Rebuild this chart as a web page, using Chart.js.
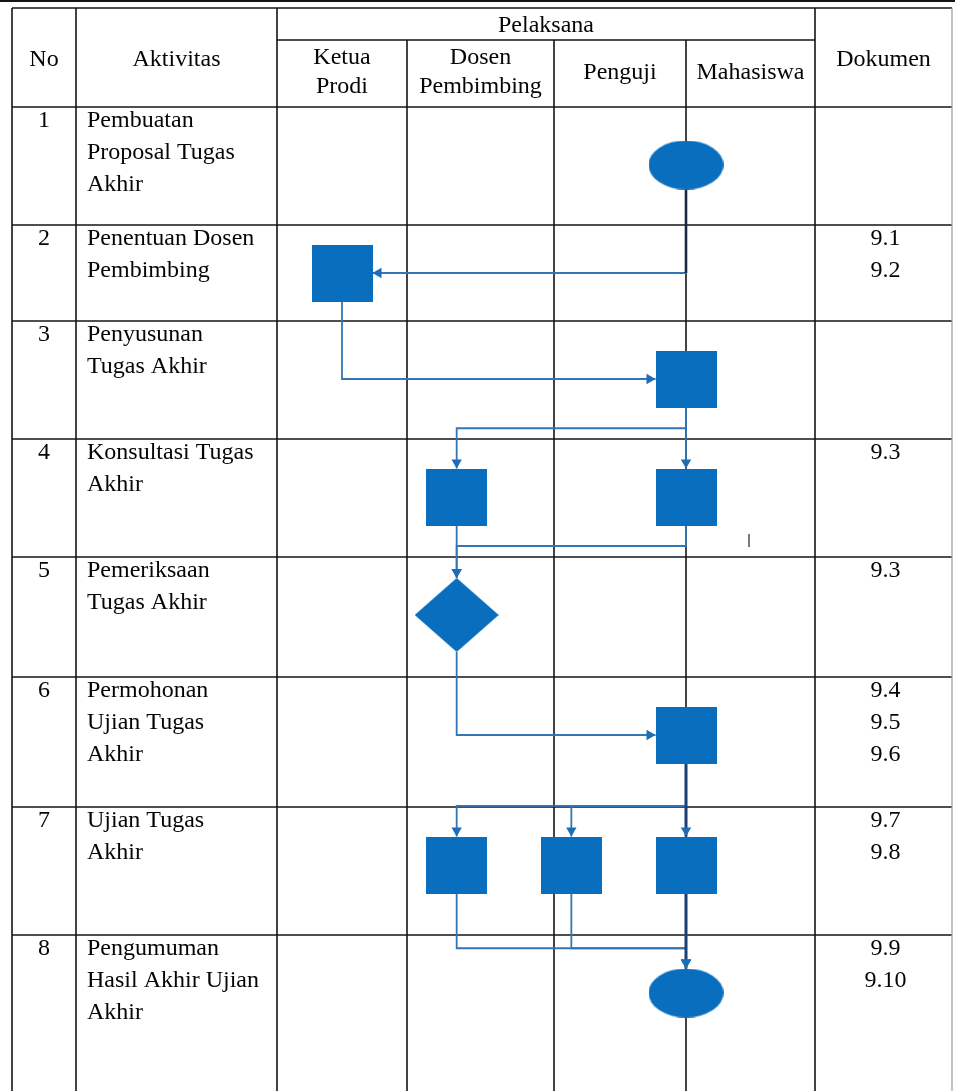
<!DOCTYPE html>
<html>
<head>
<meta charset="utf-8">
<script src="https://cdn.jsdelivr.net/npm/chart.js@4"></script>
<style>
html,body{margin:0;padding:0;background:#fff;}
canvas{display:block;}
</style>
</head>
<body>
<canvas id="c" width="955" height="1091"></canvas>
<script>
// ---------------- data ----------------
const stepNumbers = ['1', '2', '3', '4', '5', '6', '7', '8'];
const activities = [
  ['Pembuatan', 'Proposal Tugas', 'Akhir'],
  ['Penentuan Dosen', 'Pembimbing'],
  ['Penyusunan', 'Tugas Akhir'],
  ['Konsultasi Tugas', 'Akhir'],
  ['Pemeriksaan', 'Tugas Akhir'],
  ['Permohonan', 'Ujian Tugas', 'Akhir'],
  ['Ujian Tugas', 'Akhir'],
  ['Pengumuman', 'Hasil Akhir Ujian', 'Akhir']
];
const headerNo = 'No';
const headerActivity = 'Aktivitas';
const headerPerformers = 'Pelaksana';
const headerDocument = 'Dokumen';
const performers = [['Ketua', 'Prodi'], ['Dosen', 'Pembimbing'], ['Penguji'], ['Mahasiswa']];
const documents = [[], ['9.1', '9.2'], [], ['9.3'], ['9.3'], ['9.4', '9.5', '9.6'], ['9.7', '9.8'], ['9.9', '9.10']];
// lanes: 0 Ketua Prodi, 1 Dosen Pembimbing, 2 Penguji, 3 Mahasiswa
const stepLanes = [[3], [0], [3], [1, 3], [1], [3], [1, 2, 3], [3]];
const stepShapes = ['terminator', 'process', 'process', 'process', 'decision', 'process', 'process', 'terminator'];
// flows: [fromStep, fromLane, toStep, toLane]
const flows = [
  [0, 3, 1, 0], [1, 0, 2, 3],
  [2, 3, 3, 1], [2, 3, 3, 3],
  [3, 1, 4, 1], [3, 3, 4, 1],
  [4, 1, 5, 3],
  [5, 3, 6, 1], [5, 3, 6, 2], [5, 3, 6, 3],
  [6, 1, 7, 3], [6, 2, 7, 3], [6, 3, 7, 3]
];

// ---------------- layout / style ----------------
const W = 955, H = 1091;
const colEdges = [12, 76, 277, 407, 554, 686, 815, 952];
const rowEdges = [8, 107, 225, 321, 439, 557, 677, 807, 935, 1100];
const subHeaderY = 40;
const shapeSize = {
  process: {w: 61, h: 57},
  decision: {w: 84, h: 74},
  terminator: {w: 75, h: 49}
};
const busFrac = {3: 0.34, 4: 0.39, 6: 0.58, 7: 0.73};
const nodeOffset = 58;
const FILL = '#0a6ebf';
const LINE = '#3276b6';
const HEAVY = '#1d3f78';
const GRID = '#141414';
const FONT = '24px "Liberation Serif", "Times New Roman", serif';
const lineGap = 32;
const ARROW_R = 6;
const strayMark = {x: 749, y1: 534, y2: 547};

const laneFirst = (colEdges[2] + colEdges[3]) / 2;
const laneLast = colEdges[5];
const laneX = l => laneFirst + l * (laneLast - laneFirst) / 3;
const nodeY = s => rowEdges[s + 1] + Math.min(nodeOffset, (rowEdges[s + 2] - rowEdges[s + 1]) / 2);

function shapeCanvas(type) {
  const s = shapeSize[type];
  const c = document.createElement('canvas');
  c.width = s.w; c.height = s.h;
  const g = c.getContext('2d');
  g.fillStyle = FILL;
  g.beginPath();
  if (type === 'process') {
    g.rect(0, 0, s.w, s.h);
  } else if (type === 'decision') {
    g.moveTo(s.w / 2, 0); g.lineTo(s.w, s.h / 2); g.lineTo(s.w / 2, s.h); g.lineTo(0, s.h / 2); g.closePath();
  } else {
    g.ellipse(s.w / 2, s.h / 2, s.w / 2, s.h / 2, 0, 0, Math.PI * 2);
  }
  g.fill();
  return c;
}

function route(f) {
  const [s1, l1, s2, l2] = f;
  const x1 = laneX(l1), x2 = laneX(l2);
  const y1 = nodeY(s1) + shapeSize[stepShapes[s1]].h / 2;
  const t = shapeSize[stepShapes[s2]];
  const yc2 = nodeY(s2);
  const multi = flows.filter(g => g[0] === s1 && g[2] === s2).length > 1;
  if (multi) {
    const top = yc2 - t.h / 2;
    const by = y1 + busFrac[s2] * (top - y1);
    return [[x1, y1], [x1, by], [x2, by], [x2, top]];
  }
  if (l1 === l2) return [[x1, y1], [x2, yc2 - t.h / 2]];
  const side = x2 < x1 ? x2 + t.w / 2 : x2 - t.w / 2;
  return [[x1, y1], [x1, yc2], [side, yc2]];
}

const datasets = [];
// nodes
['process', 'decision', 'terminator'].forEach(type => {
  const pts = [];
  stepLanes.forEach((lanes, s) => {
    if (stepShapes[s] !== type) return;
    lanes.forEach(l => pts.push({x: laneX(l), y: nodeY(s)}));
  });
  datasets.push({
    label: type, data: pts, order: 0,
    pointStyle: shapeCanvas(type), pointRadius: 10, clip: false
  });
});
// arrows + connectors
const arrowPts = [], arrowRot = [];
flows.forEach(f => {
  const r = route(f);
  const a = r[r.length - 2], b = r[r.length - 1];
  const dx = Math.sign(b[0] - a[0]), dy = Math.sign(b[1] - a[1]);
  arrowPts.push({x: b[0] - dx * ARROW_R, y: b[1] - dy * ARROW_R});
  arrowRot.push(dy > 0 ? 180 : dy < 0 ? 0 : dx > 0 ? 90 : 270);
  const heavy = f[1] === 3 && f[3] === 3 && f[0] >= 5;
  datasets.push({
    label: 'flow', data: r.map(p => ({x: p[0], y: p[1]})), order: heavy ? 1.5 : 2,
    showLine: true, borderColor: heavy ? HEAVY : LINE, borderWidth: heavy ? 3 : 1.8,
    pointRadius: 0, tension: 0, clip: false
  });
  // the first drop from the start terminator runs on the lane border and reads dark
  if (f[0] === 0 && f[1] === 3) {
    datasets.push({
      label: 'flow-stem', data: r.slice(0, 2).map(p => ({x: p[0], y: p[1]})), order: 1.6,
      showLine: true, borderColor: '#1a2a44', borderWidth: 2.6, pointRadius: 0, tension: 0, clip: false
    });
  }
});
datasets.push({
  label: 'arrows', data: arrowPts, order: 1, pointStyle: 'triangle',
  pointRadius: ARROW_R, pointRotation: arrowRot,
  backgroundColor: '#1f6db4', borderColor: '#1f6db4', borderWidth: 0, clip: false
});

const tablePlugin = {
  id: 'table',
  beforeDatasetsDraw(chart) {
    const {ctx} = chart;
    const X = v => chart.scales.x.getPixelForValue(v);
    const Y = v => chart.scales.y.getPixelForValue(v);
    const L = colEdges[0], R = colEdges[colEdges.length - 1];
    const bottom = rowEdges[rowEdges.length - 1];
    ctx.save();
    ctx.strokeStyle = GRID;
    const hl = (y, x1, x2) => { ctx.beginPath(); ctx.moveTo(X(x1), Y(y)); ctx.lineTo(X(x2), Y(y)); ctx.stroke(); };
    const vl = (x, y1, y2) => { ctx.beginPath(); ctx.moveTo(X(x), Y(y1)); ctx.lineTo(X(x), Y(y2)); ctx.stroke(); };
    ctx.lineWidth = 2.2; hl(1, 0, W);
    ctx.lineWidth = 1.6;
    for (let i = 0; i < rowEdges.length - 1; i++) hl(rowEdges[i], L, R);
    hl(subHeaderY, colEdges[2], colEdges[6]);
    [0, 1, 2, 6].forEach(i => vl(colEdges[i], rowEdges[0], bottom));
    [3, 4, 5].forEach(i => vl(colEdges[i], subHeaderY, bottom));
    ctx.strokeStyle = '#9a9a9a'; ctx.lineWidth = 1.2;
    vl(R, rowEdges[0], bottom);
    ctx.strokeStyle = '#333'; ctx.lineWidth = 1.3;
    vl(strayMark.x, strayMark.y1, strayMark.y2);
    ctx.restore();
  },
  afterDatasetsDraw(chart) {
    const {ctx} = chart;
    const X = v => chart.scales.x.getPixelForValue(v);
    const Y = v => chart.scales.y.getPixelForValue(v);
    ctx.save();
    ctx.font = FONT;
    ctx.fillStyle = '#050505';
    ctx.textBaseline = 'alphabetic';
    const mid = (a, b) => (colEdges[a] + colEdges[b]) / 2;
    const txt = (s, x, y, align) => { ctx.textAlign = align; ctx.fillText(s, X(x), Y(y)); };
    // header
    const hMid = (rowEdges[0] + rowEdges[1]) / 2 + 8;
    txt(headerNo, mid(0, 1), hMid, 'center');
    txt(headerActivity, mid(1, 2), hMid, 'center');
    txt(headerDocument, mid(6, 7), hMid, 'center');
    txt(headerPerformers, mid(2, 6), (rowEdges[0] + subHeaderY) / 2 + 8, 'center');
    const subMid = (subHeaderY + rowEdges[1]) / 2 - 3;
    performers.forEach((lines, i) => {
      const n = lines.length;
      lines.forEach((s, k) => {
        txt(s, mid(2 + i, 3 + i), subMid + 8 + (k - (n - 1) / 2) * 29, 'center');
      });
    });
    // body
    for (let s = 0; s < stepNumbers.length; s++) {
      const base = rowEdges[s + 1] + 20;
      txt(stepNumbers[s], mid(0, 1), base, 'center');
      activities[s].forEach((line, k) => txt(line, colEdges[1] + 11, base + k * lineGap, 'left'));
      documents[s].forEach((d, k) => txt(d, mid(6, 7) + 2, base + k * lineGap, 'center'));
    }
    ctx.restore();
  }
};

new Chart(document.getElementById('c').getContext('2d'), {
  type: 'scatter',
  data: {datasets},
  options: {
    responsive: false,
    animation: false,
    events: [],
    devicePixelRatio: 1,
    layout: {padding: 0, autoPadding: false},
    plugins: {legend: {display: false}, tooltip: {enabled: false}},
    scales: {
      x: {type: 'linear', min: 0, max: W, display: false},
      y: {type: 'linear', min: 0, max: H, reverse: true, display: false}
    }
  },
  plugins: [tablePlugin]
});
</script>
</body>
</html>
